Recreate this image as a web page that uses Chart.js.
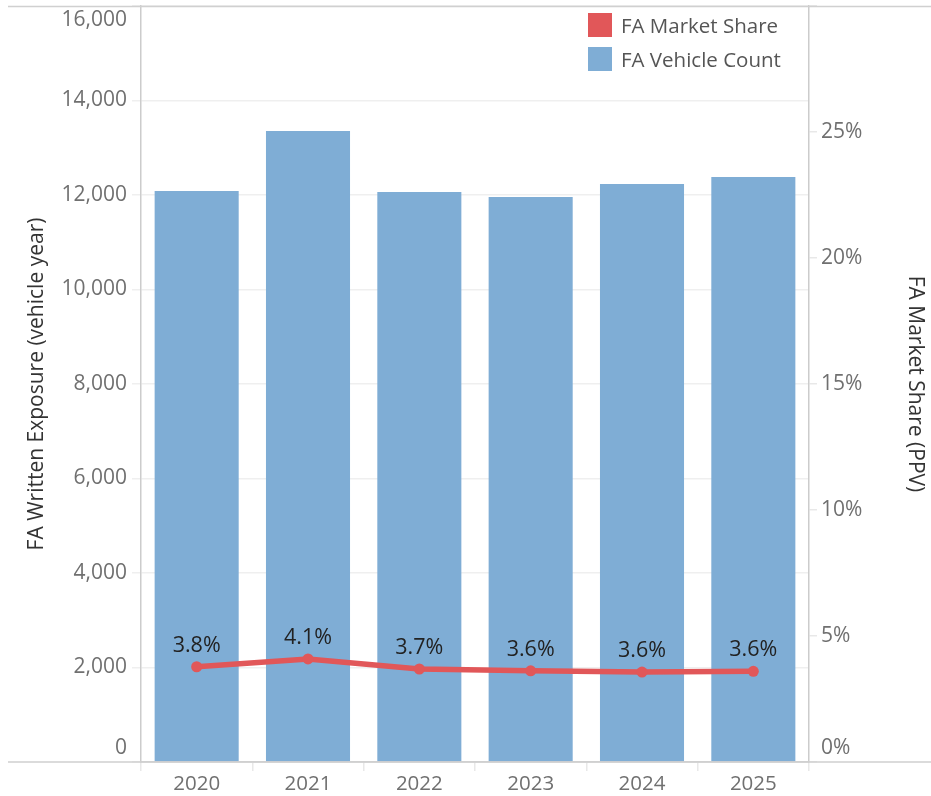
<!DOCTYPE html>
<html>
<head>
<meta charset="utf-8">
<script src="https://cdn.jsdelivr.net/npm/chart.js@4.4.1/dist/chart.umd.min.js"></script>
<style>
  html, body { margin: 0; padding: 0; background: #ffffff; }
  #wrap { width: 931px; height: 796px; position: relative; }
</style>
</head>
<body>
<div id="wrap"><canvas id="c" width="931" height="796"></canvas></div>
<script>
const years = ['2020', '2021', '2022', '2023', '2024', '2025'];
const vehicleCount = [12085, 13354, 12063, 11958, 12233, 12381];
const marketShare = [3.78, 4.09, 3.69, 3.62, 3.57, 3.60];
const leftTicks = [0, 2000, 4000, 6000, 8000, 10000, 12000, 14000, 16000];
const rightTicks = [0, 5, 10, 15, 20, 25, 30];

const FONT = '"Open Sans", sans-serif';
const TICK_COLOR = '#707070';
const TITLE_COLOR = '#333333';
const RED = '#e15759';
const BLUE = '#7fadd5';
const TICK_SIZE = 21;

const fmtNum = v => Number(v).toLocaleString('en-US');
const fmtPct = v => v + '%';

const edgeLabels = {
  id: 'edgeLabels',
  afterDraw(chart) {
    const ctx = chart.ctx;
    const ca = chart.chartArea;
    const y = chart.scales.y, y1 = chart.scales.y1;
    ctx.save();
    ctx.strokeStyle = '#d0d0d0';
    ctx.lineWidth = 1.5;
    ctx.beginPath();
    ctx.moveTo(8, ca.top + 0.5); ctx.lineTo(chart.width, ca.top + 0.5);
    ctx.moveTo(8, ca.bottom); ctx.lineTo(chart.width, ca.bottom);
    ctx.stroke();
    ctx.font = TICK_SIZE + 'px ' + FONT;
    ctx.fillStyle = TICK_COLOR;
    ctx.textBaseline = 'middle';
    ctx.textAlign = 'right';
    const lx = ca.left - 14;
    ctx.fillText(fmtNum(leftTicks[leftTicks.length - 1]), lx, y.getPixelForValue(leftTicks[leftTicks.length - 1]) + 14);
    ctx.fillText(fmtNum(leftTicks[0]), lx, y.getPixelForValue(leftTicks[0]) - 14);
    ctx.textAlign = 'left';
    ctx.fillText(fmtPct(rightTicks[0]), ca.right + 12, y1.getPixelForValue(rightTicks[0]) - 14);
    ctx.restore();
  }
};

const pointLabels = {
  id: 'pointLabels',
  afterDatasetsDraw(chart) {
    const ctx = chart.ctx;
    const meta = chart.getDatasetMeta(0);
    ctx.save();
    ctx.font = '21.5px ' + FONT;
    ctx.fillStyle = '#222222';
    ctx.textAlign = 'center';
    ctx.textBaseline = 'middle';
    meta.data.forEach((pt, i) => {
      ctx.fillText(marketShare[i].toFixed(1) + '%', pt.x, pt.y - 21);
    });
    ctx.restore();
  }
};

const customLegend = {
  id: 'customLegend',
  afterDraw(chart) {
    const ctx = chart.ctx;
    const ca = chart.chartArea;
    ctx.save();
    ctx.font = '20.5px ' + FONT;
    ctx.textBaseline = 'middle';
    ctx.textAlign = 'left';
    const x0 = ca.right - 221;
    chart.data.datasets.forEach((ds, i) => {
      const yc = ca.top + 19 + i * 34;
      ctx.fillStyle = ds.legendColor;
      ctx.fillRect(x0, yc - 12, 24, 24);
      ctx.fillStyle = '#555555';
      ctx.fillText(ds.label, x0 + 33, yc + 2);
    });
    ctx.restore();
  }
};

new Chart(document.getElementById('c'), {
  data: {
    labels: years,
    datasets: [
      {
        type: 'line',
        label: 'FA Market Share',
        data: marketShare,
        yAxisID: 'y1',
        borderColor: RED,
        backgroundColor: RED,
        legendColor: RED,
        borderWidth: 5.5,
        pointRadius: 5.5,
        pointHoverRadius: 5.5,
        pointBackgroundColor: RED,
        pointBorderWidth: 0,
        tension: 0,
        order: 0
      },
      {
        type: 'bar',
        label: 'FA Vehicle Count',
        data: vehicleCount,
        yAxisID: 'y',
        backgroundColor: BLUE,
        legendColor: BLUE,
        borderWidth: 0,
        barPercentage: 0.755,
        categoryPercentage: 1.0,
        order: 1
      }
    ]
  },
  options: {
    responsive: false,
    animation: false,
    devicePixelRatio: 1,
    layout: { padding: { top: 6, left: 0, right: 0, bottom: 0 } },
    plugins: {
      legend: { display: false },
      tooltip: { enabled: false }
    },
    scales: {
      x: {
        type: 'category',
        offset: true,
        grid: { display: true, drawOnChartArea: false, color: '#e8e8e8', tickLength: 9, lineWidth: 1.5 },
        border: { display: true, color: '#d0d0d0', width: 1.5 },
        ticks: { color: TICK_COLOR, font: { family: FONT, size: 20.5 }, padding: 1, maxRotation: 0 },
        afterFit(s) { s.height = 34; s.paddingLeft = 0; s.paddingRight = 0; }
      },
      y: {
        type: 'linear',
        position: 'left',
        min: 0,
        max: 16000,
        afterBuildTicks(s) { s.ticks = leftTicks.map(v => ({ value: v })); },
        grid: { color: '#efefef', tickLength: 9, lineWidth: 1.5, tickColor: '#efefef' },
        border: { display: true, color: '#cccccc', width: 1.5 },
        ticks: {
          color: TICK_COLOR,
          font: { family: FONT, size: TICK_SIZE },
          padding: 5,
          callback: (v) => (v === leftTicks[0] || v === leftTicks[leftTicks.length - 1]) ? '' : fmtNum(v)
        },
        title: {
          display: true,
          text: 'FA Written Exposure (vehicle year)',
          color: TITLE_COLOR,
          font: { family: FONT, size: 21 },
          padding: { top: 24, bottom: 0 }
        },
        afterFit(s) { s.width = 141; s.paddingTop = 0; s.paddingBottom = 0; }
      },
      y1: {
        type: 'linear',
        position: 'right',
        min: 0,
        max: 30,
        afterBuildTicks(s) { s.ticks = rightTicks.map(v => ({ value: v })); },
        grid: { drawOnChartArea: false, color: '#e8e8e8', tickLength: 8, lineWidth: 1.5 },
        border: { display: true, color: '#cccccc', width: 1.5 },
        ticks: {
          color: TICK_COLOR,
          font: { family: FONT, size: TICK_SIZE },
          padding: 4,
          callback: (v) => (v === rightTicks[0] || v === rightTicks[rightTicks.length - 1]) ? '' : fmtPct(v)
        },
        title: {
          display: true,
          text: 'FA Market Share (PPV)',
          color: TITLE_COLOR,
          font: { family: FONT, size: 21 },
          padding: { top: 3, bottom: 0 }
        },
        afterFit(s) { s.width = 122; s.paddingTop = 0; s.paddingBottom = 0; }
      }
    }
  },
  plugins: [edgeLabels, pointLabels, customLegend]
});
</script>
</body>
</html>
